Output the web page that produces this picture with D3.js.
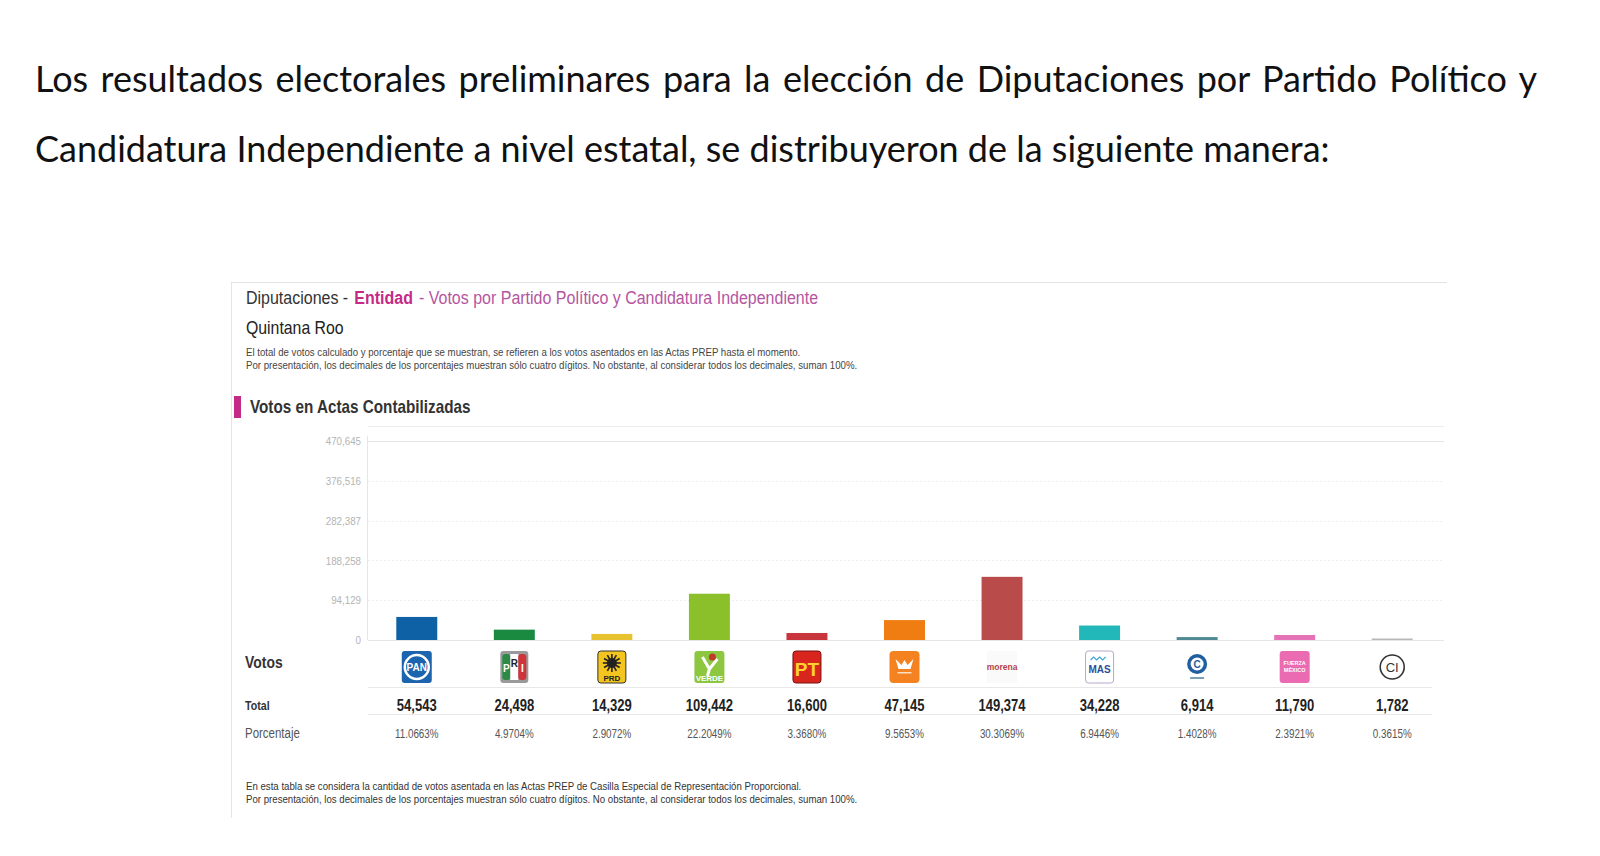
<!DOCTYPE html>
<html>
<head>
<meta charset="utf-8">
<script src="https://cdn.jsdelivr.net/npm/d3@7"></script>
<style>
  body { margin: 0; background: #fff; }
  svg { display: block; }
</style>
</head>
<body>
<svg id="chart" width="1600" height="856"></svg>
<script>
// data
const parties = ["PAN", "PRI", "PRD", "VERDE", "PT", "MC", "MORENA", "MAS", "CQROO", "FXM", "CI"];
const votes = [54543, 24498, 14329, 109442, 16600, 47145, 149374, 34228, 6914, 11790, 1782];
const percents = ["11.0663%", "4.9704%", "2.9072%", "22.2049%", "3.3680%", "9.5653%", "30.3069%", "6.9446%", "1.4028%", "2.3921%", "0.3615%"];
const barColors = ["#0f61a5", "#1b8a41", "#e8c22e", "#8cc02b", "#c9353d", "#f07d12", "#b94b4b", "#22b7b9", "#4f8a92", "#e472b6", "#b8b8b8"];

const introLines = [
    "Los resultados electorales preliminares para la elección de Diputaciones por Partido Político y",
    "Candidatura Independiente a nivel estatal, se distribuyeron de la siguiente manera:"
];
const titleParts = ["Diputaciones -", "Entidad", "- Votos por Partido Político y Candidatura Independiente"];
const notesTop = [
    "El total de votos calculado y porcentaje que se muestran, se refieren a los votos asentados en las Actas PREP hasta el momento.",
    "Por presentación, los decimales de los porcentajes muestran sólo cuatro dígitos. No obstante, al considerar todos los decimales, suman 100%."
];
const notesBottom = [
    "En esta tabla se considera la cantidad de votos asentada en las Actas PREP de Casilla Especial de Representación Proporcional.",
    "Por presentación, los decimales de los porcentajes muestran sólo cuatro dígitos. No obstante, al considerar todos los decimales, suman 100%."
];

// no Arial Narrow here: Liberation Sans squeezed sideways stands in for it
const NARROW = "'Liberation Sans', Arial, sans-serif";
const BODY = "Lato, 'Open Sans', sans-serif";

function squeeze(sel, k = 0.82) {
    sel.each(function () {
        const t = d3.select(this);
        const x0 = +t.attr("x") || 0;
        t.attr("x", x0 / k).attr("transform", `scale(${k},1)`);
    });
}

const svg = d3.select("#chart");

// ---- intro paragraph, first line justified
const para = svg.append("g").style("font-family", BODY).attr("fill", "#111");
const l2 = para.append("text").attr("x", 35).attr("y", 162).style("font-size", "32px").text(introLines[1]);
let fs = 32 * 1295 / l2.node().getComputedTextLength();
l2.style("font-size", fs + "px");
const l1 = para.append("text").attr("x", 35).attr("y", 92).style("font-size", fs + "px").text(introLines[0]);
const gaps = introLines[0].split(" ").length - 1;
l1.attr("word-spacing", (1502 - l1.node().getComputedTextLength()) / gaps);

// ---- panel frame
const frame = svg.append("g").attr("stroke", "#e4e4e4").attr("stroke-width", 1);
frame.append("line").attr("x1", 231).attr("x2", 1447).attr("y1", 282.5).attr("y2", 282.5);
frame.append("line").attr("x1", 231.5).attr("x2", 231.5).attr("y1", 282).attr("y2", 818);

const head = svg.append("g").style("font-family", NARROW);

// title in three pieces laid end to end
const titleColors = ["#333", "#c42b86", "#b5559f"];
let tx = 246;
titleParts.forEach((t, i) => {
    const el = head.append("text").attr("x", tx).attr("y", 304).style("font-size", "18.5px")
        .style("font-weight", i === 1 ? "bold" : null)
        .attr("fill", titleColors[i]).text(t);
    const w = el.node().getComputedTextLength() * 0.865;
    squeeze(el, 0.865);
    tx += w + 6;
});

head.append("text").attr("x", 246).attr("y", 334).style("font-size", "18px")
    .attr("fill", "#222").text("Quintana Roo").call(squeeze, 0.88);

head.selectAll(".note").data(notesTop).enter().append("text")
    .attr("x", 246).attr("y", (d, i) => 356 + i * 13)
    .style("font-size", "11.1px").attr("fill", "#444").text(d => d).call(squeeze, 0.87);

head.append("rect").attr("x", 234).attr("y", 396).attr("width", 7).attr("height", 22).attr("fill", "#c42b86");
head.append("text").attr("x", 250).attr("y", 413).style("font-size", "17.5px")
    .style("font-weight", "bold").attr("fill", "#333").text("Votos en Actas Contabilizadas").call(squeeze, 0.873);

// ---- bar chart
const total = d3.sum(votes);
const x = d3.scaleBand().domain(parties).range([368, 1441]).paddingInner(0.58).paddingOuter(0.29);
const y = d3.scaleLinear().domain([0, total]).range([640, 441]);
const yTicks = d3.range(6).map(i => total * i / 5);

svg.append("line").attr("x1", 368).attr("x2", 1444).attr("y1", 426.5).attr("y2", 426.5)
    .attr("stroke", "#ececec");

const grid = svg.append("g");
grid.selectAll("line").data(yTicks).enter().append("line")
    .attr("x1", 368).attr("x2", 1444)
    .attr("y1", d => Math.round(y(d)) + 0.5).attr("y2", d => Math.round(y(d)) + 0.5)
    .attr("stroke", (d, i) => i === 0 || i === 5 ? "#e6e6e6" : "#eeeeee")
    .attr("stroke-dasharray", (d, i) => i === 0 || i === 5 ? null : "2,2");

svg.append("line").attr("x1", 367.5).attr("x2", 367.5).attr("y1", 436).attr("y2", 640)
    .attr("stroke", "#e6e6e6");

const yAxis = svg.append("g")
    .attr("transform", "translate(361,0)")
    .call(d3.axisLeft(y).tickValues(yTicks).tickFormat(d3.format(",")).tickSize(0).tickPadding(0));
yAxis.select(".domain").remove();
yAxis.selectAll("text").style("font-family", NARROW).style("font-size", "11.5px").attr("fill", "#b4b4b4").call(squeeze, 0.85);

svg.append("g").selectAll("rect").data(parties).enter().append("rect")
    .attr("x", d => x(d))
    .attr("width", x.bandwidth())
    .attr("y", (d, i) => Math.min(y(votes[i]), y(0) - 1.5))
    .attr("height", (d, i) => Math.max(y(0) - y(votes[i]), 1.5))
    .attr("fill", (d, i) => barColors[i]);

// ---- table under the bars
const table = svg.append("g").style("font-family", NARROW);
table.append("text").attr("x", 245).attr("y", 668).style("font-size", "17px")
    .style("font-weight", "bold").attr("fill", "#333").text("Votos").call(squeeze);
table.append("text").attr("x", 245).attr("y", 710).style("font-size", "13px")
    .style("font-weight", "bold").attr("fill", "#333").text("Total").call(squeeze);
table.append("text").attr("x", 245).attr("y", 738).style("font-size", "14px")
    .attr("fill", "#555").text("Porcentaje").call(squeeze);

[687.5, 714.5].forEach(ly => table.append("line")
    .attr("x1", 368).attr("x2", 1432).attr("y1", ly).attr("y2", ly)
    .attr("stroke", "#e8e8e8"));

table.selectAll(".tot").data(parties).enter().append("text")
    .attr("x", d => x(d) + x.bandwidth() / 2).attr("y", 711)
    .attr("text-anchor", "middle").style("font-size", "16.5px").style("font-weight", "bold")
    .attr("fill", "#222").text((d, i) => d3.format(",")(votes[i])).call(squeeze, 0.79);

table.selectAll(".pct").data(parties).enter().append("text")
    .attr("x", d => x(d) + x.bandwidth() / 2).attr("y", 738)
    .attr("text-anchor", "middle").style("font-size", "12px")
    .attr("fill", "#555").text((d, i) => percents[i]).call(squeeze);

// ---- party logos, rough redraws
const logoY = 667;
const logos = {
    PAN: g => {
        g.append("rect").attr("x", -15).attr("y", -16).attr("width", 30).attr("height", 32).attr("rx", 3).attr("fill", "#1c64ad");
        g.append("circle").attr("r", 12).attr("fill", "none").attr("stroke", "#fff").attr("stroke-width", 2.5);
        g.append("text").attr("y", 4).attr("text-anchor", "middle").style("font-size", "10px")
            .style("font-weight", "bold").attr("fill", "#fff").text("PAN");
    },
    PRI: g => {
        g.append("rect").attr("x", -14).attr("y", -16).attr("width", 28).attr("height", 32).attr("rx", 3).attr("fill", "#9a9a9a");
        g.append("rect").attr("x", -12).attr("y", -13).attr("width", 8).attr("height", 26).attr("rx", 3).attr("fill", "#2a8a46");
        g.append("rect").attr("x", -4).attr("y", -13).attr("width", 8).attr("height", 26).attr("fill", "#fff");
        g.append("rect").attr("x", 4).attr("y", -13).attr("width", 8).attr("height", 26).attr("rx", 3).attr("fill", "#d0343a");
        g.append("text").attr("x", -8).attr("y", 5).attr("text-anchor", "middle").style("font-size", "10px").style("font-weight", "bold").attr("fill", "#fff").text("P");
        g.append("text").attr("x", 0).attr("y", 0).attr("text-anchor", "middle").style("font-size", "10px").style("font-weight", "bold").attr("fill", "#222").text("R");
        g.append("text").attr("x", 8).attr("y", 5).attr("text-anchor", "middle").style("font-size", "10px").style("font-weight", "bold").attr("fill", "#fff").text("I");
    },
    PRD: g => {
        g.append("rect").attr("x", -14).attr("y", -16).attr("width", 28).attr("height", 32).attr("rx", 3).attr("fill", "#f4c51f").attr("stroke", "#333");
        g.append("circle").attr("cy", -4).attr("r", 5).attr("fill", "#222");
        d3.range(12).forEach(k => {
            const a = k * Math.PI / 6;
            g.append("line").attr("x1", 0).attr("y1", -4).attr("x2", 9 * Math.cos(a)).attr("y2", -4 + 9 * Math.sin(a))
                .attr("stroke", "#222").attr("stroke-width", 1.6);
        });
        g.append("text").attr("y", 14).attr("text-anchor", "middle").style("font-size", "8px").style("font-weight", "bold").attr("fill", "#222").text("PRD");
    },
    VERDE: g => {
        g.append("rect").attr("x", -15).attr("y", -16).attr("width", 30).attr("height", 32).attr("rx", 3).attr("fill", "#8dc63f");
        g.append("path").attr("d", "M-7,-10 L0,2 L8,-8 M0,2 L-2,9").attr("stroke", "#fff").attr("stroke-width", 3).attr("fill", "none");
        g.append("circle").attr("cx", 3).attr("cy", -10).attr("r", 3.5).attr("fill", "#c0392b");
        g.append("text").attr("y", 14).attr("text-anchor", "middle").style("font-size", "8px").style("font-weight", "bold").attr("fill", "#fff").text("VERDE");
    },
    PT: g => {
        g.append("rect").attr("x", -14).attr("y", -16).attr("width", 28).attr("height", 32).attr("rx", 3).attr("fill", "#d8261f").attr("stroke", "#7a1010");
        g.append("text").attr("y", 9).attr("text-anchor", "middle").style("font-size", "19px").style("font-weight", "bold").attr("fill", "#ffd22e").text("PT");
    },
    MC: g => {
        g.append("rect").attr("x", -15).attr("y", -16).attr("width", 30).attr("height", 32).attr("rx", 4).attr("fill", "#f58220");
        g.append("path").attr("d", "M-9,-8 L-3,-2 L0,-7 L3,-2 L9,-8 L6,2 L-6,2 Z").attr("fill", "#fff");
        g.append("rect").attr("x", -7).attr("y", 5).attr("width", 14).attr("height", 1.5).attr("fill", "#fde0c4");
    },
    MORENA: g => {
        g.append("rect").attr("x", -15).attr("y", -16).attr("width", 30).attr("height", 32).attr("fill", "#fbfafa");
        g.append("text").attr("y", 3).attr("text-anchor", "middle").style("font-size", "8.5px").style("font-weight", "bold").attr("fill", "#b5424a").text("morena");
    },
    MAS: g => {
        g.append("rect").attr("x", -14).attr("y", -16).attr("width", 28).attr("height", 32).attr("rx", 3).attr("fill", "#fff").attr("stroke", "#b8a8c8");
        g.append("path").attr("d", "M-9,-7 l3,-3 l3,3 l3,-3 l3,3 l3,-3").attr("fill", "none").attr("stroke", "#3aa6d8").attr("stroke-width", 1.2);
        g.append("text").attr("y", 6).attr("text-anchor", "middle").style("font-size", "10px").style("font-weight", "bold").attr("fill", "#2c4f9a").text("MAS");
    },
    CQROO: g => {
        g.append("circle").attr("cy", -3).attr("r", 10).attr("fill", "#1f5fa0");
        g.append("circle").attr("cy", -3).attr("r", 6.5).attr("fill", "#fff");
        g.append("text").attr("y", 1).attr("text-anchor", "middle").style("font-size", "10px").style("font-weight", "bold").attr("fill", "#1f5fa0").text("C");
        g.append("rect").attr("x", -7).attr("y", 10).attr("width", 14).attr("height", 2).attr("fill", "#7aa0b8");
    },
    FXM: g => {
        g.append("rect").attr("x", -15).attr("y", -16).attr("width", 30).attr("height", 32).attr("rx", 3).attr("fill", "#ea6bb2");
        g.append("text").attr("y", -2).attr("text-anchor", "middle").style("font-size", "5.5px").style("font-weight", "bold").attr("fill", "#fff").text("FUERZA");
        g.append("text").attr("y", 5).attr("text-anchor", "middle").style("font-size", "5.5px").style("font-weight", "bold").attr("fill", "#fff").text("MÉXICO");
    },
    CI: g => {
        g.append("circle").attr("r", 12).attr("fill", "#fff").attr("stroke", "#333").attr("stroke-width", 1.6);
        g.append("text").attr("y", 5).attr("text-anchor", "middle").style("font-size", "13px").attr("fill", "#333").text("CI");
    }
};

const logoG = table.selectAll(".logo").data(parties).enter().append("g")
    .attr("transform", d => `translate(${x(d) + x.bandwidth() / 2},${logoY})`);
logoG.each(function (d) { logos[d](d3.select(this)); });

// ---- footnote
svg.append("g").style("font-family", NARROW).selectAll("text").data(notesBottom).enter().append("text")
    .attr("x", 246).attr("y", (d, i) => 790 + i * 13)
    .style("font-size", "11.1px").attr("fill", "#333").text(d => d).call(squeeze, 0.87);
</script>
</body>
</html>
